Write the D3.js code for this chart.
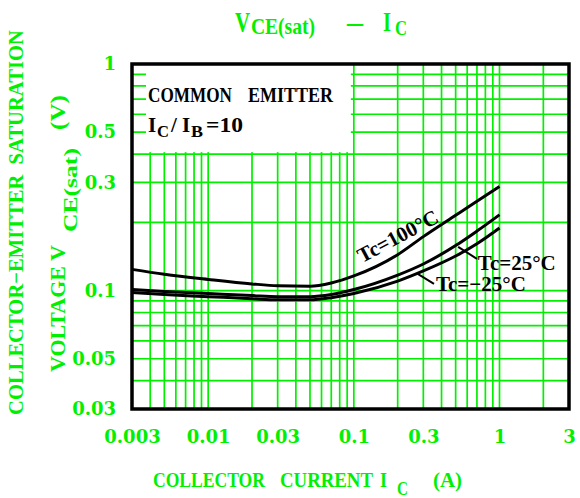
<!DOCTYPE html>
<html>
<head>
<script src="https://cdnjs.cloudflare.com/ajax/libs/d3/7.8.5/d3.min.js"></script>
<style>
  body { margin: 0; background: #fff; }
  svg text { font-family: "Liberation Serif", serif; font-weight: bold; }
  .tick text { font-family: "DejaVu Serif", serif; font-weight: bold; font-size: 18px; fill: #00f000; }
</style>
</head>
<body>
<svg id="chart" width="580" height="498"></svg>
<script>
// collector current (A)
var currents = [0.003, 0.005, 0.01, 0.02, 0.03, 0.05, 0.07, 0.1, 0.2, 0.3, 0.5, 0.7, 1];
// VCE(sat) (V) for each case temperature
var v100 = [0.124, 0.118, 0.112, 0.107, 0.105, 0.1045, 0.108, 0.116, 0.144, 0.173, 0.215, 0.248, 0.288];
var v25  = [0.101, 0.099, 0.097, 0.095, 0.094, 0.094, 0.096, 0.101, 0.117, 0.131, 0.158, 0.183, 0.216];
var vm25 = [0.098, 0.096, 0.094, 0.092, 0.091, 0.091, 0.093, 0.097, 0.110, 0.122, 0.142, 0.161, 0.189];

var xTicks = [0.003, 0.01, 0.03, 0.1, 0.3, 1, 3];
var xTickLabels = ["0.003", "0.01", "0.03", "0.1", "0.3", "1", "3"];
var yTicks = [0.03, 0.05, 0.1, 0.3, 0.5, 1];
var yTickLabels = ["0.03", "0.05", "0.1", "0.3", "0.5", "1"];

var green = "#00f000";
var svg = d3.select("#chart");

var x = d3.scaleLog().domain([0.003, 3]).range([132, 569]);
var y = d3.scaleLog().domain([0.03, 1]).range([409, 64]);

// text piece helper: fixed start, optionally squeezed to a width
function label(parent, str, px, py, size, len, fill) {
  var g = parent.append("g").attr("transform", "translate(" + px + "," + py + ")");
  var t = g.append("text").attr("font-size", size).attr("fill", fill)
    .style("white-space", "pre").text(str);
  if (len) {
    var w = t.node().getComputedTextLength();
    g.attr("transform", "translate(" + px + "," + py + ") scale(" + (len / w) + ",1)");
  }
  return t;
}

// grid lines 1..9 per decade
var xGrid = [], yGrid = [];
[0.001, 0.01, 0.1, 1].forEach(function(d) {
  for (var k = 1; k <= 9; k++) {
    var v = +(k * d).toPrecision(3);
    if (v > 0.003 && v < 3) xGrid.push(v);
  }
});
[0.01, 0.1].forEach(function(d) {
  for (var k = 1; k <= 9; k++) {
    var v = +(k * d).toPrecision(3);
    if (v > 0.03 && v < 1) yGrid.push(v);
  }
});

var grid = svg.append("g");
grid.selectAll(".gx").data(xGrid).enter().append("line")
  .attr("x1", function(d) { return x(d); }).attr("x2", function(d) { return x(d); })
  .attr("y1", y(1)).attr("y2", y(0.03))
  .attr("stroke", green).attr("stroke-width", 1.7);
grid.selectAll(".gy").data(yGrid).enter().append("line")
  .attr("x1", x(0.003)).attr("x2", x(3))
  .attr("y1", function(d) { return y(d); }).attr("y2", function(d) { return y(d); })
  .attr("stroke", green).attr("stroke-width", 1.7);

// white legend box covering the grid
svg.append("rect")
  .attr("x", x(0.003) + 14).attr("y", y(1))
  .attr("width", x(0.1) - 3 - (x(0.003) + 14))
  .attr("height", y(0.4) - 2 - y(1))
  .attr("fill", "#fff");

label(svg, "COMMON", 148, 102, 21, 84, "#000");
label(svg, "EMITTER", 248, 102, 21, 85, "#000");
label(svg, "I", 148, 132, 21, 0, "#000");
label(svg, "C", 157, 137, 16, 12, "#000");
label(svg, "/", 171, 132, 21, 0, "#000");
label(svg, "I", 182, 132, 21, 0, "#000");
label(svg, "B", 191, 137, 16, 12, "#000");
label(svg, "=10", 206, 132, 21, 37, "#000");

// curves
var line = d3.line()
  .x(function(d) { return x(d[0]); })
  .y(function(d) { return y(d[1]); })
  .curve(d3.curveMonotoneX);
[v100, v25, vm25].forEach(function(vals) {
  svg.append("path")
    .datum(currents.map(function(c, i) { return [c, vals[i]]; }))
    .attr("d", line)
    .attr("fill", "none").attr("stroke", "#000").attr("stroke-width", 3);
});

// curve labels
svg.append("text")
  .attr("transform", "translate(" + x(0.114) + "," + y(0.132) + ") rotate(-28)")
  .attr("font-size", 21).attr("fill", "#000").text("Tc=100°C");
svg.append("line")
  .attr("x1", x(0.52)).attr("y1", y(0.156)).attr("x2", x(0.70)).attr("y2", y(0.138))
  .attr("stroke", "#000").attr("stroke-width", 2);
label(svg, "Tc=25°C", x(0.71), y(0.123), 21, 0, "#000");
svg.append("line")
  .attr("x1", x(0.271)).attr("y1", y(0.119)).attr("x2", x(0.355)).attr("y2", y(0.107))
  .attr("stroke", "#000").attr("stroke-width", 2);
label(svg, "Tc=\u221225°C", x(0.366), y(0.0995), 21, 0, "#000");

// frame
svg.append("rect")
  .attr("x", x(0.003)).attr("y", y(1))
  .attr("width", x(3) - x(0.003)).attr("height", y(0.03) - y(1))
  .attr("fill", "none").attr("stroke", "#000").attr("stroke-width", 3.5);

// axes (labels only)
var xAxis = svg.append("g").attr("transform", "translate(0," + y(0.03) + ")")
  .call(d3.axisBottom(x).tickValues(xTicks).tickSize(0).tickPadding(21)
    .tickFormat(function(d, i) { return xTickLabels[i]; }));
var yAxis = svg.append("g").attr("transform", "translate(" + x(0.003) + ",0)")
  .call(d3.axisLeft(y).tickValues(yTicks).tickSize(0).tickPadding(16)
    .tickFormat(function(d, i) { return yTickLabels[i]; }));
xAxis.select(".domain").remove();
yAxis.select(".domain").remove();

// title
label(svg, "V", 235, 32, 30, 15, green);
label(svg, "CE(sat)", 251, 34, 23, 64, green);
label(svg, "\u2013", 347, 31, 28, 16, green);
label(svg, "I", 383, 31, 28, 8, green);
label(svg, "C", 395, 35, 22, 12, green);

// x label
label(svg, "COLLECTOR", 153, 487, 21, 112, green);
label(svg, "CURRENT", 280, 487, 21, 93, green);
label(svg, "I", 380, 487, 21, 7, green);
label(svg, "C", 397, 495, 18, 11, green);
label(svg, "(A)", 433, 487, 21, 29, green);

// y labels (rotated; local x = -page y, local y = page x)
var yg = svg.append("g").attr("transform", "rotate(-90)");
label(yg, "COLLECTOR\u2212EMITTER  SATURATION", -415, 23, 21, 385, green);
label(yg, "VOLTAGE V", -372, 65, 21, 127, green);
label(yg, "CE(sat)", -232, 77, 18, 84, green);
label(yg, "(V)", -130, 65, 21, 35, green);
</script>
</body>
</html>
